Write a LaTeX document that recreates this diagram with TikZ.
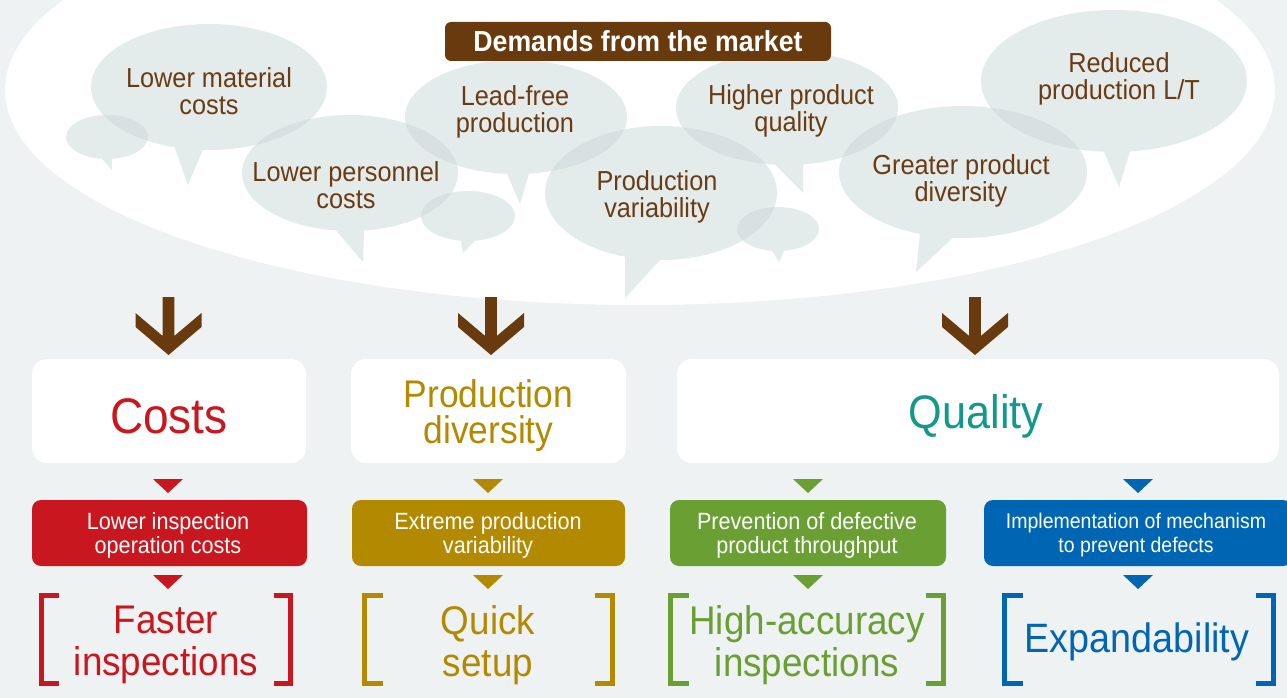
\documentclass[tikz,border=0pt]{standalone}
\usepackage{fontspec}
\setmainfont[FakeStretch=0.92]{Liberation Sans}
\definecolor{bg}{HTML}{EEF2F2}
\definecolor{bub}{RGB}{203,217,217}
\definecolor{btext}{HTML}{6B3C14}
\definecolor{brn}{HTML}{693A0D}
\definecolor{cred}{HTML}{C8171F}
\definecolor{cgold}{HTML}{B38900}
\definecolor{cteal}{HTML}{12998C}
\definecolor{cgreen}{HTML}{6A9F34}
\definecolor{cblue}{HTML}{0066B3}
\newcommand\bubble[8]{\fill[bub,opacity=0.5] (#1,#2) ++(#6:#3 and #4) arc[start angle=#6, end angle=#5+360, x radius=#3, y radius=#4] -- (#7,#8) -- cycle;}
\newcommand\bigarrow[1]{\fill[brn] (#1-5.8,297) -- (#1-5.8,336) -- (#1-33,313) -- (#1-33,327) -- (#1,355) -- (#1+33,327) -- (#1+33,313) -- (#1+5.8,336) -- (#1+5.8,297) -- cycle;}
\newcommand\tridown[3]{\fill[#1] (#2-15,#3) -- (#2+15,#3) -- (#2,#3+14) -- cycle;}
\newcommand\brackets[4]{% color, xl, xr, armlength
  \draw[#1,line width=5] (#2+#4,595.5) -- (#2,595.5) -- (#2,683.5) -- (#2+#4,683.5);
  \draw[#1,line width=5] (#3-#4,595.5) -- (#3,595.5) -- (#3,683.5) -- (#3-#4,683.5);}
\begin{document}
\begin{tikzpicture}[x=1pt,y=-1pt,
  bubtxt/.style={text=btext,align=center,inner sep=0pt,font=\fontsize{27.5}{27}\selectfont},
  catbox/.style={fill=white,rounded corners=15pt,minimum width=#1,minimum height=104pt,inner sep=0pt},
  cattxt/.style={inner sep=0pt,align=center},
  subbox/.style={rounded corners=9pt,minimum height=66pt,inner sep=0pt},
  subtxt/.style={inner sep=0pt,align=center,text=white,font=\fontsize{23.5}{24}\selectfont},
  brtxt/.style={inner sep=0pt,align=center,font=\fontsize{40}{42}\selectfont}]
\useasboundingbox (0,0) rectangle (1287,698);
\fill[bg] (0,0) rectangle (1287,698);
\fill[white] (640,90) ellipse [x radius=635, y radius=215];
% bubbles
\bubble{209}{87}{118}{63}{93}{107}{188}{185}
\bubble{107}{137}{41}{22}{83}{97}{112}{170}
\bubble{350}{173}{108}{58}{82.5}{97.5}{363}{262}
\bubble{516}{117}{111}{57}{83.3}{94.6}{520}{204}
\bubble{468}{216}{47}{25}{81.4}{98.6}{463}{253}
\bubble{661}{193}{116}{67}{90.5}{108}{625}{298}
\bubble{787}{108}{111}{57}{81.7}{96.2}{803}{193}
\bubble{778}{229}{41}{22}{81.6}{98.4}{779}{262}
\bubble{963}{172}{124}{66}{94.6}{110.3}{916}{272}
\bubble{1114}{81}{133}{71}{83.1}{94.3}{1119}{187}
\node[bubtxt] (b1) at (209,91) {Lower material\\costs};
\node[bubtxt] (b2) at (346,185) {Lower personnel\\costs};
\node[bubtxt] (b3) at (515,112) {Lead-free\\production};
\node[bubtxt] (b4) at (657,197) {Production\\variability};
\node[bubtxt] (b5) at (791,111) {Higher product\\quality};
\node[bubtxt] (b6) at (961,181) {Greater product\\diversity};
\node[bubtxt] (b7) at (1119,79) {Reduced\\production L/T};
% title box
\node[fill=brn,rounded corners=6pt,minimum width=386pt,minimum height=39pt,inner sep=0pt,text=white,font=\bfseries\fontsize{29}{29}\selectfont] (dem) at (638,41.5) {Demands from the market};
% big arrows
\bigarrow{168.5}
\bigarrow{491}
\bigarrow{975}
% category boxes
\node[catbox=274pt] (costs) at (169,411) {};
\node[catbox=275pt] (prod) at (488.5,411) {};
\node[catbox=602pt] (qual) at (978,411) {};
\node[cattxt,text=cred,font=\fontsize{50}{50}\selectfont] (costsT) at (169,416) {Costs};
\node[cattxt,text=cgold,font=\fontsize{38.5}{36}\selectfont] (prodT) at (488.5,416) {Production\\diversity};
\node[cattxt,text=cteal,font=\fontsize{47}{47}\selectfont] (qualT) at (976,416) {Quality};
% sub boxes
\node[subbox,fill=cred,minimum width=275pt] (s1) at (169.5,533) {};
\node[subbox,fill=cgold,minimum width=273pt] (s2) at (488.5,533) {};
\node[subbox,fill=cgreen,minimum width=276pt] (s3) at (808,533) {};
\node[subbox,fill=cblue,minimum width=308pt] (s4) at (1138,533) {};
\node[subtxt] (s1T) at (168,535) {Lower inspection\\operation costs};
\node[subtxt] (s2T) at (488,535) {Extreme production\\variability};
\node[subtxt] (s3T) at (807,535) {Prevention of defective\\product throughput};
\node[subtxt,font=\fontsize{21.2}{24}\selectfont] (s4T) at (1136,535) {Implementation of mechanism\\to prevent defects};
% small triangles
\tridown{cred}{168}{479}
\tridown{cgold}{488}{479}
\tridown{cgreen}{808}{479}
\tridown{cblue}{1138}{479}
\tridown{cred}{168}{575}
\tridown{cgold}{488}{575}
\tridown{cgreen}{808}{575}
\tridown{cblue}{1138}{575}
% results
\node[brtxt,text=cred] (r1) at (166,645) {Faster\\inspections};
\node[brtxt,text=cgold] (r2) at (488,645) {Quick\\setup};
\node[brtxt,text=cgreen] (r3) at (807,645) {High-accuracy\\inspections};
\node[brtxt,text=cblue,font=\fontsize{41}{42}\selectfont] (r4) at (1137,642) {Expandability};
\brackets{cred}{41.5}{290.5}{17}
\brackets{cgold}{364.5}{612.5}{18}
\brackets{cgreen}{670.5}{943.5}{18}
\brackets{cblue}{1004.5}{1273.5}{18}
\end{tikzpicture}
\end{document}
